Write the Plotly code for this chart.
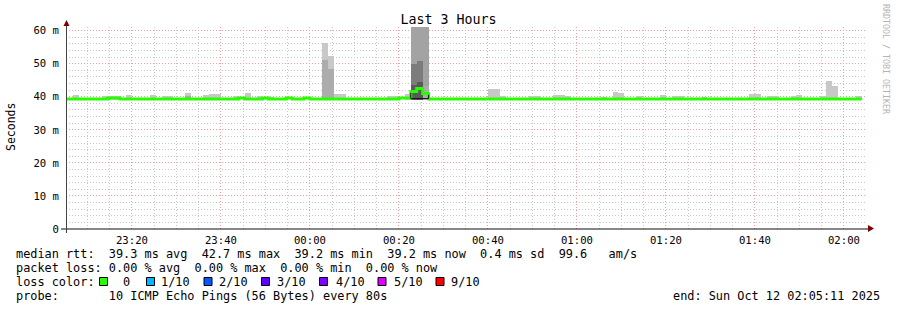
import plotly.graph_objects as go
from datetime import datetime, timedelta

# ---------------- data ----------------
title = "Last 3 Hours"
t_start = datetime(2025, 10, 11, 23, 5, 11)
t_end = datetime(2025, 10, 12, 2, 5, 11)
step_origin = datetime(2025, 10, 11, 23, 5, 20)
step_s = 80
n_steps = 134

# median rtt (ms), default value and steps that differ
median_default = 39.35
median_steps = [7, 8, 29, 33, 37, 40, 56, 57, 58, 59, 60]
median_vals = [39.6, 39.6, 39.6, 39.6, 39.6, 39.6, 39.6, 39.6, 41.6, 42.5, 41.0]

# outer smoke (lightest)
light_steps = [1, 6, 7, 8, 10, 14, 16, 17, 20, 23, 24, 25, 28, 30, 32, 34,
               43, 44, 45, 46, 54, 55, 57, 71, 72, 73, 78, 79, 82, 83, 84,
               90, 92, 93, 96, 100, 102, 103, 107, 115, 116, 118, 119, 122,
               123, 127, 128, 129, 133]
light_tops = [40.5, 40.2, 40.2, 40.2, 40.5, 40.5, 40.2, 40.2, 41.1, 40.5, 40.8,
              40.8, 40.2, 41.1, 40.2, 40.0, 56.3, 52.3, 40.8, 40.8, 40.2, 40.2,
              40.8, 42.3, 42.3, 40.2, 40.2, 40.2, 40.5, 40.5, 40.2, 40.0, 41.4,
              41.1, 40.2, 40.5, 40.2, 40.2, 40.0, 40.8, 40.8, 40.1, 40.1, 40.2,
              40.5, 40.2, 44.7, 43.2, 40.2]
# big burst outer smoke
burst_steps = [58, 59, 60]
burst_tops = [62.0, 62.0, 62.0]
# middle smoke
mid_steps = [20, 43, 44, 60]
mid_tops = [40.2, 51.1, 48.4, 43.2]
# dark smoke
dark_steps = [58, 59]
dark_tops = [49.9, 50.8]
# core smoke
core_steps = [58, 59]
core_tops = [43.5, 44.4]
smoke_base = 39.0
outline_low = 39.45

y_ticks = [0, 10, 20, 30, 40, 50, 60]
y_ticktext = ["0", "10 m", "20 m", "30 m", "40 m", "50 m", "60 m"]
x_ticks = ["2025-10-11 23:20", "2025-10-11 23:40", "2025-10-12 00:00",
           "2025-10-12 00:20", "2025-10-12 00:40", "2025-10-12 01:00",
           "2025-10-12 01:20", "2025-10-12 01:40", "2025-10-12 02:00"]
x_ticktext = ["23:20", "23:40", "00:00", "00:20", "00:40", "01:00", "01:20", "01:40", "02:00"]

legend_lines = [
    "median rtt:  39.3 ms avg  42.7 ms max  39.2 ms min  39.2 ms now  0.4 ms sd  99.6   am/s",
    "packet loss: 0.00 % avg  0.00 % max  0.00 % min  0.00 % now",
    "probe:       10 ICMP Echo Pings (56 Bytes) every 80s",
]
loss_labels = ["0", "1/10", "2/10", "3/10", "4/10", "5/10", "9/10"]
loss_colors = ["#26ff00", "#00b8ff", "#0059ff", "#5e00ff", "#7e00ff", "#dd00ff", "#ff0000"]
end_text = "end: Sun Oct 12 02:05:11 2025"

# ---------------- helpers ----------------
W, H = 897, 310
L, R, T, B = 66, 30, 27, 81
PW, PH = W - L - R, H - T - B
Y_MAX = 61.1
FONT = "DejaVu Sans Mono"


def step_center(k):
    return step_origin + timedelta(seconds=step_s * (k + 0.5))


def step_edge(k):
    return step_origin + timedelta(seconds=step_s * k)


def px(xp):
    return (xp - L) / PW


def py(yp):
    return (H - B - yp) / PH


fig = go.Figure()


def smoke(steps, tops, color):
    fig.add_trace(go.Bar(
        x=[step_center(k) for k in steps],
        y=[t - smoke_base for t in tops],
        base=[smoke_base] * len(steps),
        width=[step_s * 1000] * len(steps),
        marker=dict(color=color, line=dict(width=0)),
        hoverinfo="skip", showlegend=False,
    ))


smoke(light_steps, light_tops, "#c8c8c8")
smoke(burst_steps, burst_tops, "#a3a3a3")
smoke(mid_steps, mid_tops, "#acacac")
smoke(dark_steps, dark_tops, "#7c7c7c")
smoke(core_steps, core_tops, "#5a5a5a")

# median line (step)
med = [median_default] * n_steps
for k, v in zip(median_steps, median_vals):
    med[k] = v
xs, ys = [], []
for k in range(n_steps):
    xs += [step_edge(k), step_edge(k + 1)]
    ys += [med[k], med[k]]
fig.add_trace(go.Scatter(x=xs, y=ys, mode="lines",
                         line=dict(color="#26ff00", width=3),
                         hoverinfo="skip", showlegend=False))

# black outline below the burst
k0, k1 = burst_steps[0], burst_steps[-1]
fig.add_trace(go.Scatter(
    x=[step_edge(k0), step_edge(k0), step_edge(k1 + 1), step_edge(k1 + 1)],
    y=[med[k0] - 0.4, outline_low, outline_low, med[k1] - 0.4],
    mode="lines", line=dict(color="#111111", width=1),
    hoverinfo="skip", showlegend=False))

grid_minor = "#c8c8c8"
grid_major = "#f0a0a0"

fig.update_layout(
    width=W, height=H,
    margin=dict(l=L, r=R, t=T, b=B, pad=0),
    paper_bgcolor="white", plot_bgcolor="white",
    barmode="overlay", bargap=0,
    title=dict(text=title, x=0.5, xref="container", xanchor="center",
               y=1 - 19.5 / H, yref="container", yanchor="middle",
               font=dict(family=FONT, size=13.3, color="black")),
    font=dict(family=FONT, color="black"),
    xaxis=dict(
        type="date", range=[t_start, t_end],
        tickmode="array", tickvals=x_ticks, ticktext=x_ticktext,
        tickfont=dict(family=FONT, size=10.6, color="black"),
        ticks="", ticklen=0, showline=False, zeroline=False,
        showgrid=True, gridcolor=grid_major, griddash="1px,2px", gridwidth=1,
        minor=dict(dtick=300000, tick0="2025-10-11 23:20", showgrid=True,
                   gridcolor=grid_minor, griddash="1px,2px", gridwidth=1),
        ticklabelstandoff=3,
        fixedrange=True,
    ),
    yaxis=dict(
        range=[0, Y_MAX], tickmode="array", tickvals=y_ticks, ticktext=y_ticktext,
        tickfont=dict(family=FONT, size=10.6, color="black"),
        ticks="", showline=False, zeroline=False,
        showgrid=True, gridcolor=grid_major, griddash="1px,2px", gridwidth=1,
        minor=dict(dtick=2, tick0=0, showgrid=True,
                   gridcolor=grid_minor, griddash="1px,2px", gridwidth=1),
        ticklabelstandoff=6,
        fixedrange=True,
    ),
)

shapes = []
# x axis line + arrow
shapes.append(dict(type="line", xref="paper", yref="paper",
                   x0=px(61), x1=px(870), y0=0, y1=0,
                   line=dict(color="#111111", width=1)))
shapes.append(dict(type="path", xref="paper", yref="paper",
                   path=f"M {px(868)} {py(225)} L {px(874)} {py(228.5)} L {px(868)} {py(232)} Z",
                   fillcolor="#7f0000", line=dict(color="#7f0000", width=0)))
# y axis line + arrow
shapes.append(dict(type="line", xref="paper", yref="paper",
                   x0=px(66.5), x1=px(66.5), y0=py(233), y1=py(24),
                   line=dict(color="#444444", width=1)))
shapes.append(dict(type="path", xref="paper", yref="paper",
                   path=f"M {px(63.5)} {py(26)} L {px(66.5)} {py(20)} L {px(69.5)} {py(26)} Z",
                   fillcolor="#7f0000", line=dict(color="#7f0000", width=0)))

ann = []
NB = "\u00a0"
ann.append(dict(text="Seconds", textangle=-90, x=px(11), y=py(127),
                xref="paper", yref="paper", showarrow=False,
                font=dict(family=FONT, size=11.5, color="black"),
                xanchor="center", yanchor="middle"))
ann.append(dict(text="RRDTOOL / TOBI OETIKER", textangle=90, x=px(886), y=py(59),
                xref="paper", yref="paper", showarrow=False,
                font=dict(family=FONT, size=8.3, color="#b4b4b4"),
                xanchor="center", yanchor="middle"))

LX = 15
line_y = [254, 268, 282, 296]
text_lines = [legend_lines[0], legend_lines[1], None, legend_lines[2]]
for yy, txt in zip(line_y, text_lines):
    if txt is None:
        continue
    ann.append(dict(text=txt.replace(" ", NB), x=px(LX), y=py(yy),
                    xref="paper", yref="paper", showarrow=False,
                    font=dict(family=FONT, size=11.86, color="black"),
                    xanchor="left", yanchor="middle", borderpad=0))
ann.append(dict(text="loss color:", x=px(LX), y=py(282), xref="paper", yref="paper",
                showarrow=False, font=dict(family=FONT, size=11.86, color="black"),
                xanchor="left", yanchor="middle", borderpad=0))
text_x = [122.0, 159.5, 217.5, 276.0, 334.5, 392.5, 449.5]
box_x = [99.0, 146.0, 203.5, 261.0, 319.0, 377.5, 435.5]
for lab, col, tx, bx in zip(loss_labels, loss_colors, text_x, box_x):
    ann.append(dict(text=lab, x=px(tx), y=py(282), xref="paper", yref="paper",
                    showarrow=False, font=dict(family=FONT, size=11.86, color="black"),
                    xanchor="left", yanchor="middle", borderpad=0))
    shapes.append(dict(type="rect", xref="paper", yref="paper",
                       x0=px(bx + 0.5), x1=px(bx + 8.5), y0=py(285.5), y1=py(277.5),
                       fillcolor=col, line=dict(color="black", width=1)))
ann.append(dict(text=end_text.replace(" ", NB), x=px(881), y=py(296),
                xref="paper", yref="paper", showarrow=False,
                font=dict(family=FONT, size=11.86, color="black"),
                xanchor="right", yanchor="middle", borderpad=0))
fig.update_layout(annotations=ann, shapes=shapes)

fig.write_html("out.html")
